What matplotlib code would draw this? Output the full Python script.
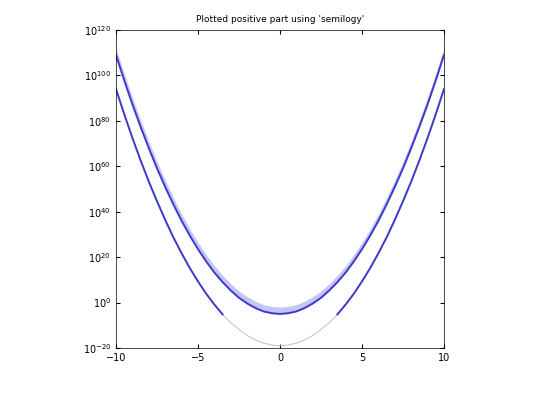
import numpy as np
import matplotlib
matplotlib.use("Agg")
import matplotlib.pyplot as plt

xh = [0, 0.5, 1, 1.5, 2, 2.5, 3, 3.5, 4, 4.5, 5, 5.5, 6, 6.5, 7, 7.5, 8, 8.5, 9, 9.5, 10]
upper_log = [-5, -4.7, -3.9, -2.4, -0.4, 2.1, 5.3, 9.0, 13.2, 18.1, 23.5, 29.5, 36.0, 43.2, 50.9, 59.1, 68.0, 77.4, 87.3, 97.9, 109]
lower_log = [-19, -18.7, -17.9, -16.5, -14.5, -11.9, -8.8, -5.2, -0.9, 3.9, 9.3, 15.2, 21.7, 28.7, 36.4, 44.6, 53.3, 62.6, 72.5, 83.0, 94]
band_width = 3.0

x = np.array([-v for v in xh[::-1]] + xh[1:])
up = 10.0 ** np.array(upper_log[::-1] + upper_log[1:])
lo = 10.0 ** np.array(lower_log[::-1] + lower_log[1:])

fig = plt.figure(figsize=(5.4, 4.05), dpi=100)
ax = fig.add_axes([116/540, 1-348/405, (444-116)/540, (348-30)/405])
ax.fill_between(x, up, up * 10**band_width, color='#a0a0f0', alpha=0.6, lw=0)
ax.semilogy(x, up, color='#3a3acc', lw=1.4)
ax.semilogy(x, lo, color='#c0c0cc', lw=0.7)
left = x <= -3.5
right = x >= 3.5
ax.semilogy(x[left], lo[left], color='#3a3acc', lw=1.4)
ax.semilogy(x[right], lo[right], color='#3a3acc', lw=1.4)
ax.set_xlim(-10, 10)
ax.set_ylim(1e-20, 1e120)
ax.set_xticks([-10, -5, 0, 5, 10])
ax.set_yticks([10.0**k for k in range(-20, 121, 20)])
ax.minorticks_off()
ax.tick_params(labelsize=7, direction='in', top=True, right=True, length=3)
for s in ax.spines.values():
    s.set_linewidth(0.5)
ax.set_title("Plotted positive part using 'semilogy'", fontsize=6.5)
fig.savefig("out.png")
